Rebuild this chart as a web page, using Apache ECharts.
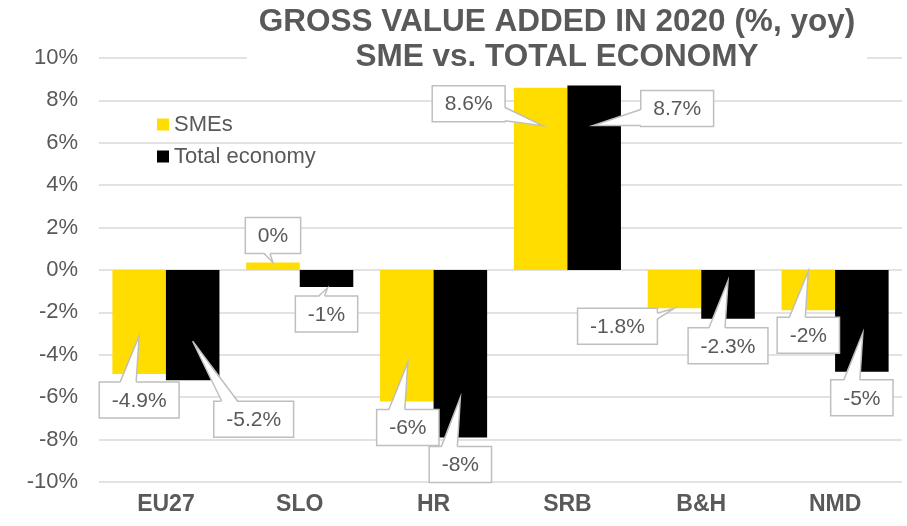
<!DOCTYPE html>
<html><head><meta charset="utf-8">
<script src="https://cdn.jsdelivr.net/npm/echarts@6/dist/echarts.min.js"></script>
<style>html,body{margin:0;padding:0;background:#fff}#c{width:907px;height:526px}</style>
</head><body><div id="c"></div>
<script>
const categories = ['EU27', 'SLO', 'HR', 'SRB', 'B&H', 'NMD'];
const smeValues = [-4.9, 0.35, -6.2, 8.6, -1.8, -1.9];
const totalValues = [-5.2, -0.8, -7.9, 8.7, -2.3, -4.8];
const smeLabels = ['-4.9%', '0%', '-6%', '8.6%', '-1.8%', '-2%'];
const totalLabels = ['-5.2%', '-1%', '-8%', '8.7%', '-2.3%', '-5%'];
const seriesNames = ['SMEs', 'Total economy'];
const titleText = 'GROSS VALUE ADDED IN 2020 (%, yoy)\nSME vs. TOTAL ECONOMY';

// callout layout (pixels, relative to the end of each bar)
const smeCallouts = [
  {box: [0, 26], tip: [0, -38]},
  {box: [0, -27], tip: [0, 0]},
  {box: [1, 26], tip: [1, -39]},
  {box: [-72, 16], tip: [2, 38]},
  {box: [-57, 18], tip: [0, 0]},
  {box: [0, 25], tip: [0, -39]}
];
const totalCallouts = [
  {box: [61, 39], tip: [0, -39]},
  {box: [0, 27], tip: [1, 1]},
  {box: [0, 27], tip: [0, -40]},
  {box: [83, 23], tip: [-1, 40]},
  {box: [0, 27], tip: [0, -38]},
  {box: [0, 26], tip: [1, -39]}
];

const FONT = '"Liberation Sans", Arial, sans-serif';
const GRAY = '#595959';
const BORDER = '#bfbfbf';
const LABEL_SIZE = 21;

const measureCtx = document.createElement('canvas').getContext('2d');
function textWidth(t) {
  measureCtx.font = LABEL_SIZE + 'px ' + FONT;
  return measureCtx.measureText(t).width;
}

// one callout per bar, built from the value arrays
const calloutData = [];
smeValues.forEach((v, i) => calloutData.push([i, v, 0]));
totalValues.forEach((v, i) => calloutData.push([i, v, 1]));

function renderCallout(params, api) {
  const cat = api.value(0), val = api.value(1), s = api.value(2);
  const pt = api.coord([cat, val]);
  const band = api.size([1, 0])[0];
  const ex = pt[0] + (s === 0 ? -0.2 : 0.2) * band;
  const ey = pt[1];
  const c = (s === 0 ? smeCallouts : totalCallouts)[cat];
  const text = (s === 0 ? smeLabels : totalLabels)[cat];
  const w = textWidth(text) + 25, h = 36;
  const cx = ex + c.box[0], cy = ey + c.box[1];
  const L = cx - w / 2, R = cx + w / 2, T = cy - h / 2, B = cy + h / 2;
  const tx = ex + c.tip[0], ty = ey + c.tip[1];
  const vgap = ty < T ? T - ty : (ty > B ? ty - B : 0);
  const hgap = tx < L ? L - tx : (tx > R ? tx - R : 0);
  let line, fill;
  if (vgap >= hgap) {
    const edgeY = ty < T ? T : B;
    const inside = ty < T ? 1.5 : -1.5;
    const wd = Math.max(6, Math.min(16, vgap * 0.35));
    let b2 = tx - 3, b1 = b2 - wd;
    if (b1 < L + 8) { b1 = L + 8; b2 = b1 + wd; }
    if (b2 > R - 8) { b2 = R - 8; b1 = b2 - wd; }
    line = [[b1, edgeY], [tx, ty], [b2, edgeY]];
    fill = [[b1, edgeY + inside], [tx, ty], [b2, edgeY + inside]];
  } else {
    const edgeX = tx < L ? L : R;
    const inside = tx < L ? 1.5 : -1.5;
    const wd = Math.max(6, Math.min(16, hgap * 0.35));
    const b2 = Math.min(Math.max(ty, T + 5 + wd), B - 1);
    const b1 = b2 - wd;
    line = [[edgeX, b1], [tx, ty], [edgeX, b2]];
    fill = [[edgeX + inside, b1], [tx, ty], [edgeX + inside, b2]];
  }
  return {
    type: 'group',
    children: [
      {type: 'rect', shape: {x: L, y: T, width: w, height: h},
        style: {fill: '#fff', stroke: BORDER, lineWidth: 1.5}},
      {type: 'polygon', shape: {points: fill}, style: {fill: '#fff', stroke: 'none'}},
      {type: 'polyline', shape: {points: line}, style: {fill: 'none', stroke: BORDER, lineWidth: 1.5}},
      {type: 'text', x: cx, y: cy + 1,
        style: {text: text, fill: GRAY, fontSize: LABEL_SIZE, fontFamily: FONT,
          align: 'center', verticalAlign: 'middle'}}
    ]
  };
}

const option = {
  animation: false,
  backgroundColor: '#fff',
  title: {
    text: titleText,
    left: 545,
    top: 0,
    textAlign: 'center',
    padding: [5, 12, 3, 12],
    backgroundColor: '#fff',
    textStyle: {fontFamily: FONT, fontSize: 31.5, fontWeight: 'bold', color: GRAY, lineHeight: 35}
  },
  legend: {
    data: seriesNames,
    orient: 'vertical',
    left: 152,
    top: 108,
    icon: 'rect',
    itemWidth: 12,
    itemHeight: 12,
    itemGap: 9,
    textStyle: {fontFamily: FONT, fontSize: 22, color: GRAY, lineHeight: 23}
  },
  grid: {left: 99, right: 5, top: 58, bottom: 44, containLabel: false},
  xAxis: {
    type: 'category',
    data: categories,
    axisLine: {show: false},
    axisTick: {show: false},
    axisLabel: {fontFamily: FONT, fontSize: 23, fontWeight: 'bold', color: GRAY, margin: 11}
  },
  yAxis: {
    type: 'value',
    min: -10, max: 10, interval: 2,
    axisLine: {show: false},
    axisTick: {show: false},
    axisLabel: {fontFamily: FONT, fontSize: 22, color: GRAY, margin: 21, formatter: '{value}%'},
    splitLine: {lineStyle: {color: '#d9d9d9', width: 1.5}}
  },
  series: [
    {
      name: seriesNames[0], type: 'bar', data: smeValues,
      barWidth: '40%', barGap: '0%',
      itemStyle: {color: '#FFDD00'}
    },
    {
      name: seriesNames[1], type: 'bar', data: totalValues,
      barWidth: '40%', barGap: '0%',
      itemStyle: {color: '#000000'}
    },
    {
      name: 'labels', type: 'custom', coordinateSystem: 'cartesian2d',
      data: calloutData, encode: {x: 0, y: 1},
      renderItem: renderCallout, clip: false, z: 5, silent: true
    }
  ]
};

const chart = echarts.init(document.getElementById('c'), null, {renderer: 'canvas'});
chart.setOption(option);
</script>
</body></html>
